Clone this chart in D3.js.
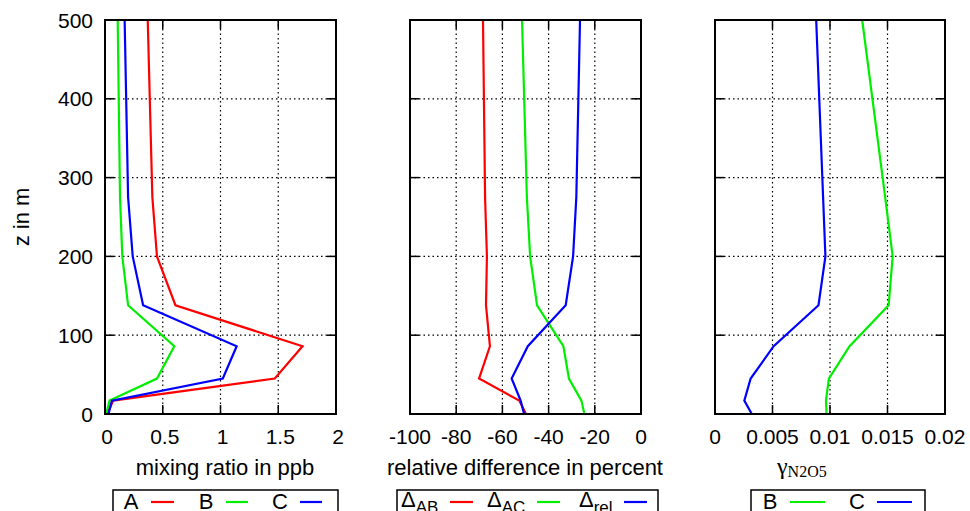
<!DOCTYPE html>
<html><head><meta charset="utf-8">
<script src="https://cdn.jsdelivr.net/npm/d3@7"></script>
<style>body{margin:0;background:#fff}svg{display:block}text{font-family:"Liberation Sans",Arial,sans-serif;fill:#000}</style>
</head><body><svg id="c" width="970" height="511"></svg>
<script>
// heights (m)
const z = [0, 17, 45, 86, 138, 200, 275, 500];
// panel 1: mixing ratio in ppb
const mixA = [0.02, 0.07, 1.47, 1.71, 0.61, 0.45, 0.41, 0.37];
const mixB = [0.01, 0.04, 0.45, 0.60, 0.20, 0.15, 0.13, 0.11];
const mixC = [0.03, 0.06, 1.02, 1.14, 0.33, 0.24, 0.20, 0.17];
// panel 2: relative difference in percent
const dAB  = [-49.8, -52.7, -70.1, -65.4, -67.1, -66.7, -67.5, -68.4];
const dAC  = [-24.5, -25.8, -31.2, -33.6, -45.0, -48.0, -49.4, -51.5];
const dRel = [-50.6, -52.1, -56.0, -49.0, -32.6, -29.4, -28.0, -26.4];
// panel 3: gamma N2O5
const gB = [0.0097, 0.00965, 0.0099, 0.0117, 0.0151, 0.01545, 0.0148, 0.0128];
const gC = [0.0032, 0.00255, 0.0031, 0.0051, 0.0090, 0.0096, 0.0094, 0.0088];
// ticks
const yTicks = [0, 100, 200, 300, 400, 500];
const x1Ticks = [0, 0.5, 1, 1.5, 2];
const x2Ticks = [-100, -80, -60, -40, -20, 0];
const x3Ticks = [0, 0.005, 0.01, 0.015, 0.02];

const RED = "#ff0000", GREEN = "#00ee00", BLUE = "#0000ff";
const svg = d3.select("#c");
const yTop = 20, yBot = 414;
const y = d3.scaleLinear().domain([0, 500]).range([yBot, yTop]);
const FS = 21;

const panels = [
  {x0:105, x1:336, dom:[0,2], ticks:x1Ticks, labels:true,
   series:[{v:mixA,c:RED},{v:mixB,c:GREEN},{v:mixC,c:BLUE}]},
  {x0:410, x1:641, dom:[-100,0], ticks:x2Ticks, labels:false,
   series:[{v:dAB,c:RED},{v:dAC,c:GREEN},{v:dRel,c:BLUE}]},
  {x0:715, x1:945, dom:[0,0.02], ticks:x3Ticks, labels:false,
   series:[{v:gB,c:GREEN},{v:gC,c:BLUE}]}
];

panels.forEach((p, i) => {
  const x = d3.scaleLinear().domain(p.dom).range([p.x0, p.x1]);
  const g = svg.append("g");
  // grid
  p.ticks.slice(1, -1).forEach(t => {
    g.append("line").attr("x1", x(t)).attr("x2", x(t)).attr("y1", yTop).attr("y2", yBot)
      .attr("stroke", "#000").attr("stroke-width", 1.2).attr("stroke-dasharray", "1.5,3");
  });
  yTicks.slice(1, -1).forEach(t => {
    g.append("line").attr("x1", p.x0).attr("x2", p.x1).attr("y1", y(t)).attr("y2", y(t))
      .attr("stroke", "#000").attr("stroke-width", 1.2).attr("stroke-dasharray", "1.5,3");
  });
  // tick marks (inward, mirrored)
  const TL = 9;
  p.ticks.forEach(t => {
    g.append("line").attr("x1", x(t)).attr("x2", x(t)).attr("y1", yBot).attr("y2", yBot - TL)
      .attr("stroke", "#000").attr("stroke-width", 1.5);
    g.append("line").attr("x1", x(t)).attr("x2", x(t)).attr("y1", yTop).attr("y2", yTop + TL)
      .attr("stroke", "#000").attr("stroke-width", 1.5);
  });
  yTicks.forEach(t => {
    g.append("line").attr("x1", p.x0).attr("x2", p.x0 + TL).attr("y1", y(t)).attr("y2", y(t))
      .attr("stroke", "#000").attr("stroke-width", 1.5);
    g.append("line").attr("x1", p.x1).attr("x2", p.x1 - TL).attr("y1", y(t)).attr("y2", y(t))
      .attr("stroke", "#000").attr("stroke-width", 1.5);
  });
  // x tick labels
  p.ticks.forEach(t => {
    g.append("text").attr("x", x(t) + (i === 0 ? 2 : 0)).attr("y", 444).attr("text-anchor", "middle")
      .attr("font-size", FS).text(String(t));
  });
  // y tick labels
  if (p.labels) {
    yTicks.forEach(t => {
      g.append("text").attr("x", 93).attr("y", y(t)).attr("dy", "0.36em")
        .attr("text-anchor", "end").attr("font-size", FS).text(t);
    });
  }
  // series lines
  const line = d3.line().x(d => x(d[0])).y(d => y(d[1]));
  p.series.forEach(s => {
    g.append("path").datum(s.v.map((v, k) => [v, z[k]])).attr("d", line)
      .attr("fill", "none").attr("stroke", s.c).attr("stroke-width", 2.2)
      .attr("stroke-linejoin", "miter");
  });
  // border
  g.append("rect").attr("x", p.x0).attr("y", yTop).attr("width", p.x1 - p.x0).attr("height", yBot - yTop)
    .attr("fill", "none").attr("stroke", "#000").attr("stroke-width", 2);
});

// axis labels
svg.append("text").attr("transform", "translate(29,217) rotate(-90)").attr("text-anchor", "middle")
  .attr("font-size", 22).text("z in m");
svg.append("text").attr("x", 225).attr("y", 475).attr("text-anchor", "middle")
  .attr("font-size", 22).text("mixing ratio in ppb");
svg.append("text").attr("x", 525).attr("y", 475).attr("text-anchor", "middle")
  .attr("font-size", 22).text("relative difference in percent");
const gl = svg.append("text").attr("x", 777).attr("y", 474)
  .style("font-family", "'Liberation Serif','Times New Roman',serif");
gl.append("tspan").attr("font-size", 24).text("γ");
gl.append("tspan").attr("font-size", 16).attr("dy", 3).text("N2O5");

// legends
function box(x0, x1) {
  svg.append("rect").attr("x", x0).attr("y", 490).attr("width", x1 - x0).attr("height", 40)
    .attr("fill", "none").attr("stroke", "#000").attr("stroke-width", 1.5);
}
function sample(xa, xb, c) {
  svg.append("line").attr("x1", xa).attr("x2", xb).attr("y1", 502).attr("y2", 502)
    .attr("stroke", c).attr("stroke-width", 2.2);
}
box(113, 338);
[["A", 131, 151, 174, RED], ["B", 206, 226, 248, GREEN], ["C", 280, 300, 322, BLUE]].forEach(e => {
  svg.append("text").attr("x", e[1]).attr("y", 509).attr("text-anchor", "middle").attr("font-size", 22).text(e[0]);
  sample(e[2], e[3], e[4]);
});
box(397, 658);
[["AB", 401, 450, 473, RED], ["AC", 487, 537, 560, GREEN], ["rel", 579, 624, 647, BLUE]].forEach(e => {
  const t = svg.append("text").attr("x", e[1]).attr("y", 507).attr("font-size", 22);
  t.append("tspan").text("Δ");
  t.append("tspan").attr("font-size", 17).attr("dy", 6).text(e[0]);
  sample(e[2], e[3], e[4]);
});
box(751, 925);
[["B", 770, 790, 825, GREEN], ["C", 857, 877, 912, BLUE]].forEach(e => {
  svg.append("text").attr("x", e[1]).attr("y", 509).attr("text-anchor", "middle").attr("font-size", 22).text(e[0]);
  sample(e[2], e[3], e[4]);
});
</script></body></html>
